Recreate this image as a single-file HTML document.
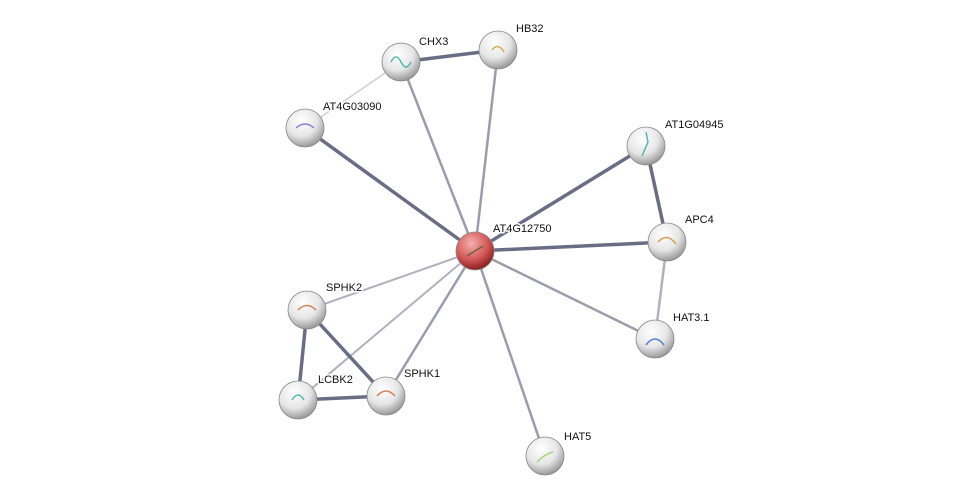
<!DOCTYPE html>
<html><head><meta charset="utf-8"><style>
html,body{margin:0;padding:0;background:#fff;}
svg{display:block;}
text{font-family:"Liberation Sans",sans-serif;font-size:11px;fill:#111;stroke:#fff;stroke-width:3px;paint-order:stroke;stroke-linejoin:round;}
</style></head><body>
<svg width="976" height="502" viewBox="0 0 976 502" xmlns="http://www.w3.org/2000/svg">
<defs>
<radialGradient id="g" cx="40%" cy="30%" r="70%">
<stop offset="0" stop-color="#ffffff"/><stop offset="0.6" stop-color="#e6e6e6"/><stop offset="1" stop-color="#9a9a9a"/>
</radialGradient>
<radialGradient id="r" cx="40%" cy="30%" r="70%">
<stop offset="0" stop-color="#f4b0b0"/><stop offset="0.6" stop-color="#d65a5a"/><stop offset="1" stop-color="#8a2020"/>
</radialGradient>
</defs>
<g stroke-linecap="round">
<line x1="475" y1="251" x2="401" y2="62" stroke="#9c9cad" stroke-width="2.5"/>
<line x1="475" y1="251" x2="498" y2="50" stroke="#9c9cad" stroke-width="2.5"/>
<line x1="475" y1="251" x2="305" y2="128" stroke="#6a6e85" stroke-width="3.5"/>
<line x1="475" y1="251" x2="646" y2="146" stroke="#6a6e85" stroke-width="3.5"/>
<line x1="475" y1="251" x2="667" y2="242" stroke="#6a6e85" stroke-width="3.5"/>
<line x1="475" y1="251" x2="655" y2="339" stroke="#9c9cad" stroke-width="2.5"/>
<line x1="475" y1="251" x2="545" y2="456" stroke="#9c9cad" stroke-width="2.5"/>
<line x1="475" y1="251" x2="307" y2="310" stroke="#b0b0bf" stroke-width="2"/>
<line x1="475" y1="251" x2="386" y2="396" stroke="#9c9cad" stroke-width="2.5"/>
<line x1="475" y1="251" x2="298" y2="400" stroke="#b0b0bf" stroke-width="2"/>
<line x1="401" y1="62" x2="498" y2="50" stroke="#6a6e85" stroke-width="3.5"/>
<line x1="401" y1="62" x2="305" y2="128" stroke="#d0d0d8" stroke-width="1.5"/>
<line x1="646" y1="146" x2="667" y2="242" stroke="#6a6e85" stroke-width="3.5"/>
<line x1="667" y1="242" x2="655" y2="339" stroke="#b0b0bf" stroke-width="2.5"/>
<line x1="307" y1="310" x2="298" y2="400" stroke="#6a6e85" stroke-width="3.5"/>
<line x1="307" y1="310" x2="386" y2="396" stroke="#6a6e85" stroke-width="3.5"/>
<line x1="298" y1="400" x2="386" y2="396" stroke="#6a6e85" stroke-width="3.5"/>
</g>
<g stroke="#888" stroke-width="0.8">
<circle cx="401" cy="62" r="19" fill="url(#g)"/>
<circle cx="498" cy="50" r="19" fill="url(#g)"/>
<circle cx="305" cy="128" r="19" fill="url(#g)"/>
<circle cx="646" cy="146" r="19" fill="url(#g)"/>
<circle cx="667" cy="242" r="19" fill="url(#g)"/>
<circle cx="307" cy="310" r="19" fill="url(#g)"/>
<circle cx="655" cy="339" r="19" fill="url(#g)"/>
<circle cx="298" cy="400" r="19" fill="url(#g)"/>
<circle cx="386" cy="396" r="19" fill="url(#g)"/>
<circle cx="545" cy="456" r="19" fill="url(#g)"/>
<circle cx="475" cy="251" r="19" fill="url(#r)"/>
</g>
<g fill="none" stroke-width="1.5" opacity="0.8">
<path d="M391 62 q5 -10 10 0 t10 0" stroke="#3a9"/>
<path d="M492 50 q6 -8 12 2" stroke="#c93"/>
<path d="M296 128 q9 -8 18 0" stroke="#66c"/>
<path d="M642 156 l6 -14 l-2 -10" stroke="#3a9"/>
<path d="M658 242 q9 -10 18 2" stroke="#c83"/>
<path d="M298 310 q9 -9 18 0" stroke="#c63"/>
<path d="M646 345 q9 -12 18 0" stroke="#36c"/>
<path d="M292 400 q6 -10 12 0" stroke="#3a9"/>
<path d="M377 396 q9 -10 18 0" stroke="#c63"/>
<path d="M537 462 q8 -8 16 -10" stroke="#9c6"/>
<path d="M467 256 l16 -10" stroke="#553"/>
</g>
<text x="419" y="45">CHX3</text>
<text x="516" y="32">HB32</text>
<text x="323" y="110">AT4G03090</text>
<text x="665" y="128">AT1G04945</text>
<text x="493" y="232">AT4G12750</text>
<text x="685" y="223">APC4</text>
<text x="326" y="291">SPHK2</text>
<text x="673" y="321">HAT3.1</text>
<text x="318" y="383">LCBK2</text>
<text x="404" y="377">SPHK1</text>
<text x="564" y="440">HAT5</text>
</svg>
</body></html>
